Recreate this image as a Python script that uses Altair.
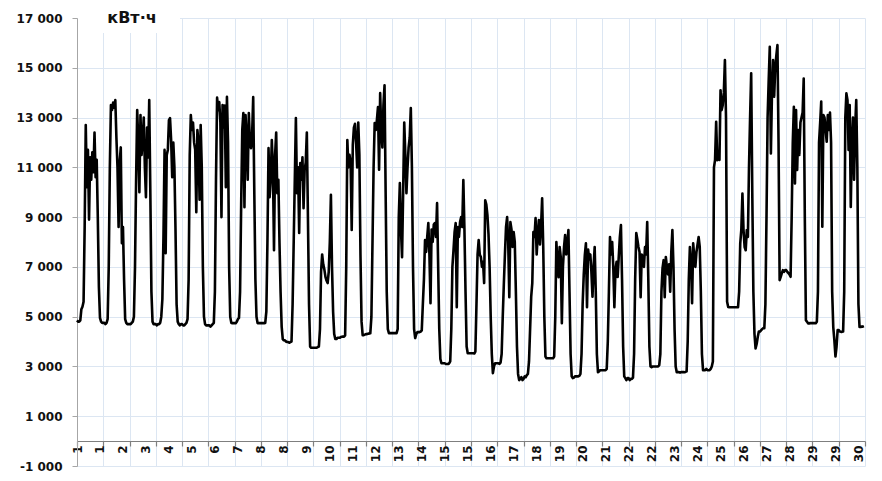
import altair as alt
import pandas as pd

# ---- data: hourly consumption (kWh), 30 days x 24 hours ----
d01 = [4850, 4800, 4800, 4850, 5300, 5400, 5600, 8600, 12700, 10200, 11700, 8900, 11400, 10500, 11600, 10800, 12400, 10600, 11300, 9000, 6200, 4950, 4800, 4750]
d02 = [4750, 4750, 4700, 4750, 4900, 7000, 11000, 13500, 13300, 13600, 13400, 13700, 12200, 11000, 8600, 11200, 11800, 7950, 8600, 6500, 4900, 4750, 4700, 4700]
d03 = [4700, 4700, 4750, 4800, 5000, 7000, 10500, 13300, 12000, 10000, 13100, 11500, 12100, 13000, 11000, 9800, 12600, 11400, 13700, 10000, 6000, 4800, 4700, 4700]
d04 = [4700, 4650, 4700, 4700, 4750, 5000, 5700, 8200, 11700, 7550, 11500, 11700, 12900, 12980, 12100, 10600, 12000, 11000, 8500, 5500, 4800, 4700, 4650, 4700]
d05 = [4700, 4650, 4650, 4700, 4750, 4900, 6500, 11500, 13100, 12500, 12800, 12000, 11700, 9200, 12500, 12000, 9700, 12700, 11000, 7000, 5000, 4700, 4650, 4650]
d06 = [4650, 4650, 4600, 4650, 4700, 4750, 6000, 10500, 13800, 13300, 13620, 12800, 9000, 13500, 12600, 13480, 10200, 13830, 12000, 7000, 5000, 4750, 4740, 4740]
d07 = [4740, 4740, 4800, 4900, 4950, 6000, 9500, 12500, 13180, 9400, 13100, 12200, 10500, 13180, 12000, 11770, 12300, 13820, 10000, 6500, 5000, 4740, 4740, 4740]
d08 = [4740, 4740, 4740, 4740, 4750, 5200, 8000, 11770, 9800, 10500, 12100, 11000, 7670, 11500, 12400, 9960, 10500, 8000, 6000, 4600, 4100, 4050, 4050, 4000]
d09 = [3980, 3980, 3950, 3980, 4000, 5500, 8000, 10500, 12980, 9960, 11000, 8360, 11170, 10500, 11400, 9360, 10900, 11200, 12400, 9000, 5500, 3800, 3750, 3750]
d10 = [3750, 3750, 3750, 3750, 3780, 3800, 4500, 6800, 7500, 7100, 6900, 6600, 6450, 6350, 6800, 8000, 9900, 7000, 5200, 4300, 4100, 4100, 4150, 4150]
d11 = [4150, 4180, 4190, 4200, 4200, 4250, 7000, 12100, 11000, 11500, 11200, 8480, 11900, 12600, 12750, 12000, 11000, 12800, 11500, 7500, 4800, 4260, 4260, 4280]
d12 = [4300, 4300, 4320, 4320, 4330, 5000, 8000, 11000, 12780, 12500, 12900, 13420, 10900, 13980, 12500, 11800, 13500, 14300, 10000, 6000, 4500, 4340, 4340, 4340]
d13 = [4340, 4340, 4340, 4340, 4340, 4500, 9000, 10370, 8500, 7390, 10000, 12800, 11500, 9960, 11000, 11800, 12200, 13380, 11000, 7000, 4500, 4140, 4300, 4380]
d14 = [4380, 4380, 4400, 4450, 5500, 6500, 8080, 7600, 8200, 8760, 7500, 5540, 8500, 8000, 8700, 8760, 8200, 9560, 7000, 4500, 3300, 3130, 3130, 3130]
d15 = [3130, 3100, 3100, 3100, 3120, 3200, 4500, 7000, 7670, 8400, 8760, 5380, 8600, 8200, 8800, 9000, 8600, 10490, 8500, 6000, 3800, 3530, 3530, 3530]
d16 = [3530, 3530, 3530, 3520, 3600, 5500, 7500, 8080, 7500, 7400, 7000, 7200, 6350, 9680, 9500, 9080, 8300, 7000, 5000, 3500, 2730, 3000, 3130, 3130]
d17 = [3130, 3130, 3100, 3150, 3500, 5000, 6300, 7500, 8600, 9000, 8000, 5780, 8800, 8500, 7800, 8400, 8000, 6000, 3800, 2700, 2450, 2500, 2570, 2450]
d18 = [2500, 2600, 2570, 2650, 2700, 3200, 4500, 5800, 6350, 8400, 8200, 8960, 7500, 8300, 8880, 7900, 8600, 9760, 7800, 5000, 3400, 3330, 3330, 3330]
d19 = [3330, 3330, 3330, 3330, 3400, 5000, 8000, 7200, 6590, 7800, 7400, 4740, 7000, 7800, 8280, 7500, 7900, 8480, 6000, 3500, 2600, 2530, 2550, 2600]
d20 = [2600, 2600, 2600, 2620, 2700, 3500, 5500, 6670, 7470, 7950, 5380, 7700, 7300, 7500, 6800, 5800, 7000, 7800, 6000, 3500, 2770, 2800, 2850, 2850]
d21 = [2850, 2850, 2850, 2850, 2900, 4000, 6000, 8200, 7500, 8000, 7000, 5380, 6870, 7200, 6600, 7400, 8200, 8680, 6500, 3800, 2600, 2530, 2450, 2530]
d22 = [2530, 2450, 2500, 2500, 2550, 3500, 6500, 8360, 8100, 7800, 7600, 5780, 7500, 7400, 7000, 7800, 7500, 8800, 6500, 3800, 3000, 2970, 3000, 3000]
d23 = [3000, 3000, 3000, 3000, 3050, 3500, 6000, 6950, 7270, 5780, 7400, 7000, 6700, 7100, 6000, 7600, 8480, 7000, 4500, 3000, 2770, 2770, 2770, 2750]
d24 = [2770, 2770, 2770, 2770, 2780, 2800, 4000, 6500, 7800, 7200, 5540, 7950, 7400, 7000, 7600, 7900, 8200, 7800, 6000, 3500, 2850, 2850, 2850, 2900]
d25 = [2850, 2850, 2850, 2900, 3000, 3200, 11000, 11300, 12830, 11290, 11500, 11300, 14100, 13300, 13500, 14000, 15310, 13000, 5600, 5390, 5380, 5380, 5380, 5380]
d26 = [5380, 5380, 5380, 5380, 5380, 6000, 7940, 8500, 9950, 8480, 7800, 7670, 8480, 8200, 11000, 13000, 14780, 10000, 6000, 4320, 3720, 3900, 4180, 4400]
d27 = [4400, 4450, 4500, 4540, 4540, 5500, 9000, 13000, 14500, 15840, 11560, 14000, 15310, 13840, 15000, 15500, 15910, 12000, 6470, 6600, 6750, 6870, 6800, 6870]
d28 = [6870, 6800, 6750, 6700, 6600, 9000, 12000, 13430, 10350, 13300, 10890, 12500, 11500, 12800, 13000, 13200, 14570, 9000, 4860, 4800, 4730, 4730, 4740, 4740]
d29 = [4740, 4740, 4740, 4740, 4800, 6000, 12000, 12770, 13640, 8610, 13100, 13000, 12500, 12030, 13100, 12500, 13200, 12000, 6000, 4580, 4060, 3400, 3800, 4460]
d30 = [4460, 4400, 4390, 4390, 4400, 6000, 13000, 13970, 13700, 11700, 13500, 9410, 12000, 13000, 10500, 12600, 13700, 11000, 5500, 4590, 4590, 4600, 4600, 4620]

days = [d01, d02, d03, d04, d05, d06, d07, d08, d09, d10,
        d11, d12, d13, d14, d15, d16, d17, d18, d19, d20,
        d21, d22, d23, d24, d25, d26, d27, d28, d29, d30]

y_ticks = [-1000, 1000, 3000, 5000, 7000, 9000, 11000, 13000, 15000, 17000]
x_tick_hours = [0, 24, 48, 72, 96, 120, 144, 168, 192, 216, 240, 264, 288, 312, 336,
                360, 384, 408, 432, 456, 480, 504, 528, 552, 576, 600, 624, 648, 672,
                696, 720]
x_label_hours = [0, 21, 42, 63, 84, 105, 126, 147, 168, 189, 210, 231, 252, 273, 294,
                 315, 336, 357, 378, 399, 420, 441, 462, 483, 504, 525, 546, 567, 588,
                 609, 630, 651, 672, 693, 714]
x_labels = ["1", "1", "2", "3", "4", "5", "6", "7", "8", "8", "9", "10", "11", "12", "13",
            "14", "15", "15", "16", "17", "18", "19", "20", "21", "22", "22", "23", "24",
            "25", "26", "27", "28", "29", "29", "30"]
unit_title = "кВт·ч"

values = [v for d in days for v in d]
df = pd.DataFrame({"hour": list(range(len(values))), "kwh": values})

FONT = "DejaVu Sans"
GRID = "#dce6f2"
TXT = "#111111"

xscale = alt.Scale(domain=[0, 720], nice=False, zero=False)
yscale = alt.Scale(domain=[-1000, 17000], nice=False, zero=False)

y_label_expr = "(datum.value < 0 ? '-' : '') + replace(format(abs(datum.value), ',d'), ',', ' ')"
x_label_expr = ("[" + ",".join("'%s'" % s for s in x_labels) + "][indexof(["
                + ",".join(str(h) for h in x_label_hours) + "], datum.value)]")

base = alt.Chart(df)

grid_layer = base.mark_line(strokeOpacity=0).encode(
    x=alt.X("hour:Q", scale=xscale, axis=alt.Axis(
        orient="bottom", values=x_tick_hours, grid=True, gridColor=GRID, gridWidth=1,
        domain=False, ticks=False, labels=False, title=None)),
    y=alt.Y("kwh:Q", scale=yscale, axis=alt.Axis(
        values=y_ticks, grid=True, gridColor=GRID, gridWidth=1,
        domain=True, domainColor="#a6a6a6", domainWidth=1,
        ticks=True, tickColor="#a6a6a6", tickSize=5,
        labelExpr=y_label_expr, labelFont=FONT, labelFontSize=12, labelFontWeight="bold",
        labelColor=TXT, labelPadding=10, title=None)),
)

axis_layer = base.mark_line(strokeOpacity=0).encode(
    x=alt.X("hour:Q", scale=xscale, axis=alt.Axis(
        orient="bottom", values=x_tick_hours, grid=False, offset=-25,
        domain=True, domainColor="#7f7f7f", domainWidth=1.2,
        ticks=True, tickColor="#7f7f7f", tickSize=5, tickWidth=1.2,
        labels=False, title=None)),
    y=alt.Y("kwh:Q", scale=yscale, axis=None),
)

label_layer = base.mark_line(strokeOpacity=0).encode(
    x=alt.X("hour:Q", scale=xscale, axis=alt.Axis(
        orient="bottom", values=x_label_hours, grid=False, offset=-25,
        domain=False, ticks=False, labelExpr=x_label_expr, labelAngle=-90,
        labelAlign="right", labelBaseline="middle",
        labelFont=FONT, labelFontSize=12, labelFontWeight="bold", labelColor=TXT,
        labelPadding=4, labelOverlap=False, labelBound=False, labelFlush=False,
        title=None)),
    y=alt.Y("kwh:Q", scale=yscale, axis=None),
)

line_layer = base.mark_line(color="#000000", strokeWidth=2.6, strokeJoin="round").encode(
    x=alt.X("hour:Q", scale=xscale, axis=None),
    y=alt.Y("kwh:Q", scale=yscale, axis=None),
)

title_df = pd.DataFrame({"t": [unit_title]})
title_box = alt.Chart(title_df).mark_rect(color="white").encode(
    x=alt.value(1), x2=alt.value(103), y=alt.value(-10), y2=alt.value(15))
title_text = alt.Chart(title_df).mark_text(
    font=FONT, fontSize=16, fontWeight="bold", color=TXT, align="center", baseline="middle"
).encode(x=alt.value(55), y=alt.value(0), text="t:N")

chart = alt.layer(grid_layer, axis_layer, label_layer, line_layer, title_box, title_text).resolve_axis(
    x="independent", y="independent"
).properties(
    width=788, height=448,
    autosize=alt.AutoSizeParams(type="none"),
    padding={"left": 69, "top": 10, "right": 5, "bottom": 12},
    background="white",
).configure_view(stroke=None)

chart.save("out.html", embed_options={"renderer": "svg", "actions": False})
